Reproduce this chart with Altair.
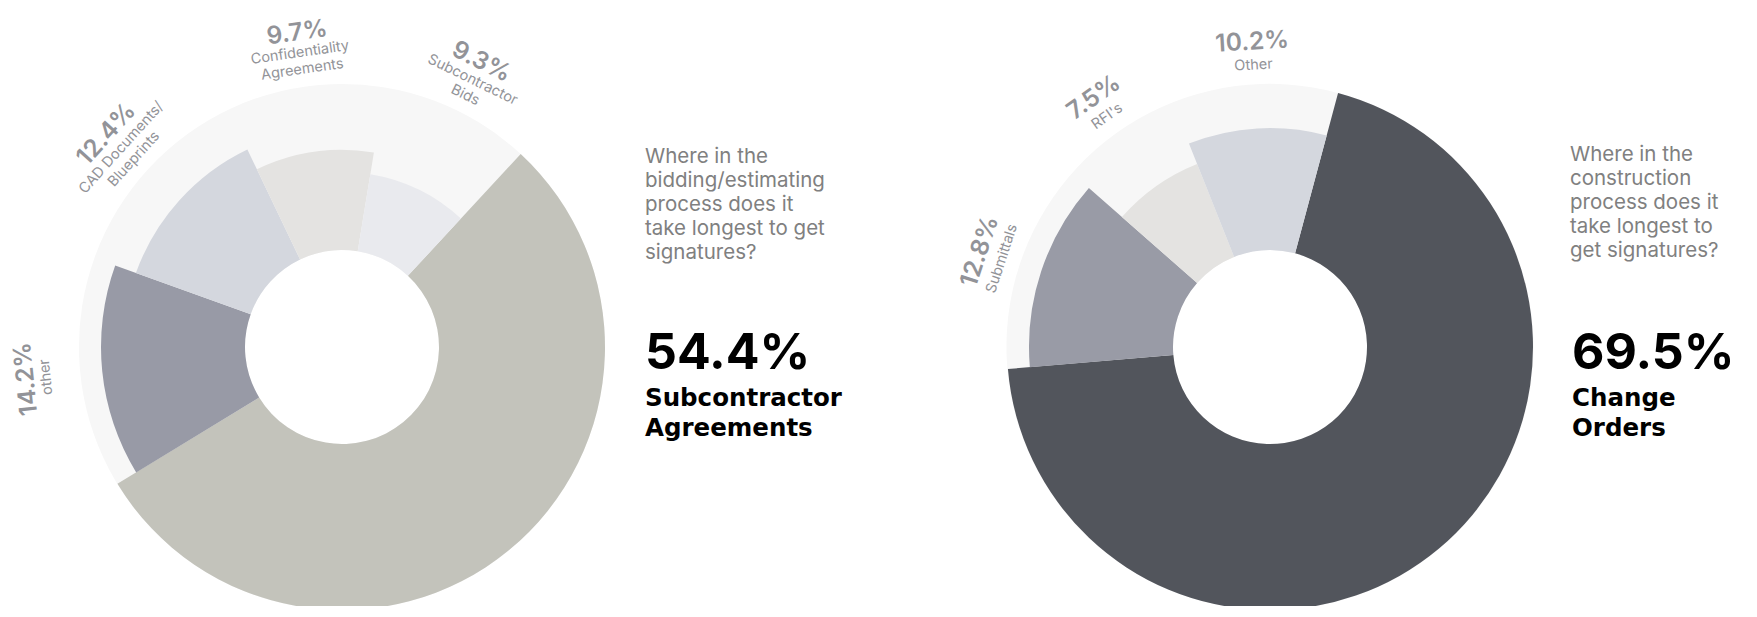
import math
import altair as alt
import pandas as pd

FONT = "Inter"
HEAD_FONT = "DejaVu Sans"

# ---------------- data ----------------
left_cats = ["Subcontractor Agreements", "other", "CAD Documents/Blueprints",
             "Confidentiality Agreements", "Subcontractor Bids"]
left_vals = [54.4, 14.2, 12.4, 9.7, 9.3]
left_labels = ["", "other", "CAD Documents/\nBlueprints",
               "Confidentiality\nAgreements", "Subcontractor\nBids"]
left_colors = ["#c3c3bb", "#989aa6", "#d4d7de", "#e4e3e1", "#e9eaee"]
left_question = ["Where in the", "bidding/estimating", "process does it",
                 "take longest to get", "signatures?"]

right_cats = ["Change Orders", "Submittals", "RFI's", "Other"]
right_vals = [69.5, 12.8, 7.5, 10.2]
right_labels = ["", "Submittals", "RFI's", "Other"]
right_colors = ["#52555c", "#999ba6", "#e4e3e1", "#d4d7de"]
right_question = ["Where in the", "construction", "process does it",
                  "take longest to", "get signatures?"]

LABEL_GRAY = "#929398"
Q_GRAY = "#808080"
R_OUT = 263
R_MIN = 175
R_IN = 97


def donut(cats, vals, labels, colors, question, start_deg, cx, cy,
          pct_r, name_r, qx, qy, hx):
    df = pd.DataFrame({"cat": cats, "v": vals, "label": labels,
                       "ord": list(range(len(cats)))})
    a0 = math.radians(start_deg)
    ts = alt.Scale(domain=[0, 100], range=[a0, a0 + 2 * math.pi])
    base = (
        alt.Chart(df)
        .transform_window(end="sum(v)", sort=[alt.SortField("ord")], frame=[None, 0])
        .transform_calculate(
            start="datum.end - datum.v",
            mid="(datum.end - datum.v/2)",
            ang=f"({start_deg} + (datum.end - datum.v/2) * 3.6) % 360",
            pct="format(datum.v, '.1f') + '%'",
            head="replace(datum.cat, ' ', '\\n')",
        )
        .transform_window(rank="row_number()", sort=[alt.SortField("v", order="descending")])
    )
    bg = (
        base.transform_aggregate(total="sum(v)")
        .mark_arc(radius=R_OUT, radius2=R_IN, color="#f7f7f7")
        .encode(theta=alt.Theta("total:Q", scale=ts), x=alt.value(cx), y=alt.value(cy))
    )
    arcs = base.mark_arc(radius2=R_IN).encode(
        theta=alt.Theta("start:Q", scale=ts, stack=None),
        theta2="end:Q",
        radius=alt.Radius("rank:Q", scale=alt.Scale(type="linear", domain=[1, 5],
                                                     range=[R_OUT, R_MIN], zero=False)),
        color=alt.Color("cat:N", scale=alt.Scale(domain=cats, range=colors), legend=None),
        x=alt.value(cx), y=alt.value(cy),
    )
    lab = base.transform_filter("datum.label != ''")
    pct = lab.mark_text(radius=pct_r, font=FONT, fontSize=24.5, fontWeight=600,
                        color=LABEL_GRAY, align="center", baseline="middle").encode(
        theta=alt.Theta("mid:Q", scale=ts, stack=None),
        angle=alt.Angle("ang:Q", scale=None),
        text="pct:N", x=alt.value(cx), y=alt.value(cy),
    )
    name = lab.mark_text(radius=name_r, font=FONT, fontSize=14.5, lineBreak="\n",
                         lineHeight=17, color=LABEL_GRAY, align="center",
                         baseline="top").encode(
        theta=alt.Theta("mid:Q", scale=ts, stack=None),
        angle=alt.Angle("ang:Q", scale=None),
        text="label:N", x=alt.value(cx), y=alt.value(cy),
    )
    q = alt.Chart(pd.DataFrame({"t": ["\n".join(question)]})).mark_text(
        font=FONT, fontSize=20.5, lineBreak="\n", lineHeight=24, color=Q_GRAY,
        align="left", baseline="alphabetic").encode(
        text="t:N", x=alt.value(qx), y=alt.value(qy))
    top = base.transform_filter("datum.rank == 1")
    big = top.mark_text(font=FONT, fontSize=50, fontWeight="bold", color="#000000",
                        align="left", baseline="alphabetic").encode(
        text="pct:N", x=alt.value(hx), y=alt.value(361))
    head = top.mark_text(font=HEAD_FONT, fontSize=24.5, fontWeight="bold", color="#000000",
                         align="left", baseline="alphabetic", lineBreak="\n",
                         lineHeight=30).encode(
        text="head:N", x=alt.value(hx), y=alt.value(398))
    return alt.layer(bg, arcs, pct, name, q, big, head)


left = donut(left_cats, left_vals, left_labels, left_colors, left_question,
             42.8, 334, 339, 317, 304, 637, 155, 637)
right = donut(right_cats, right_vals, right_labels, right_colors, right_question,
              15.0, 1262, 339, 305, 289, 1562, 153, 1564)

chart = (
    alt.layer(left, right)
    .resolve_scale(theta="independent", radius="independent", color="independent")
    .properties(width=1741, height=598, padding=0,
                autosize=alt.AutoSizeParams(type="none"), background="#ffffff")
    .configure_view(stroke=None)
)

chart.save("out.html", embed_options={"renderer": "svg", "actions": False})
